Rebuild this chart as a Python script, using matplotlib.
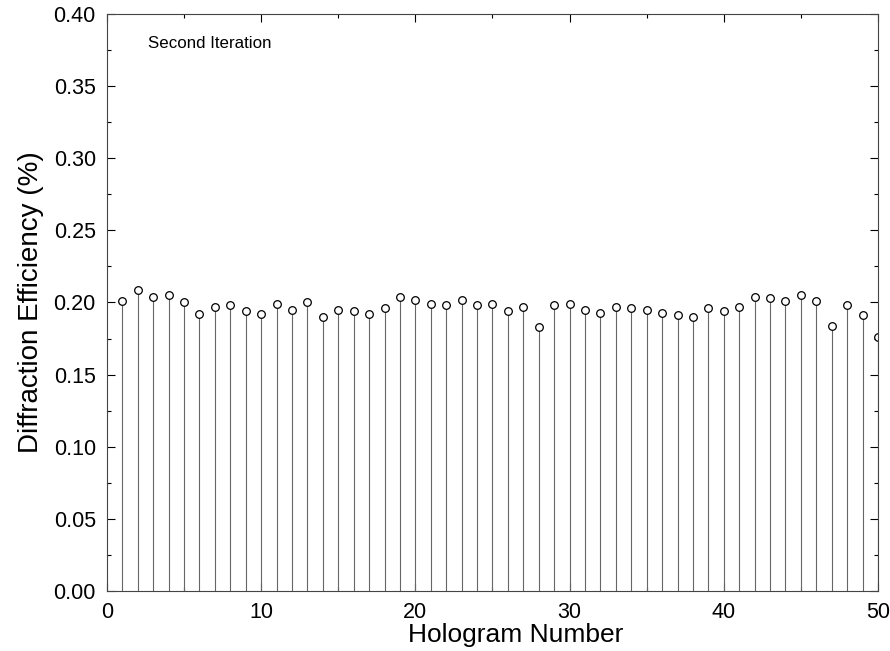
import numpy as np
import matplotlib
matplotlib.use("Agg")
import matplotlib.pyplot as plt
from matplotlib.ticker import MultipleLocator

plt.rcParams['font.family'] = ['Liberation Sans', 'DejaVu Sans']

# hologram index and measured diffraction efficiency (%)
hologram = np.arange(1, 51)
efficiency = [0.201, 0.209, 0.204, 0.205, 0.200, 0.192, 0.197, 0.198, 0.194, 0.192,
              0.199, 0.195, 0.200, 0.190, 0.195, 0.194, 0.192, 0.196, 0.204, 0.202,
              0.199, 0.198, 0.202, 0.198, 0.199, 0.194, 0.197, 0.183, 0.198, 0.199,
              0.195, 0.193, 0.197, 0.196, 0.195, 0.193, 0.191, 0.190, 0.196, 0.194,
              0.197, 0.204, 0.203, 0.201, 0.205, 0.201, 0.184, 0.198, 0.191, 0.176]

fig = plt.figure(figsize=(8.9, 6.51), dpi=100)
ax = fig.add_axes([0.1202, 0.0922, 0.8663, 0.8863])

ax.vlines(hologram, 0, efficiency, colors='#666666', linewidth=0.8)
ax.plot(hologram, efficiency, 'o', ms=5.5, mfc='white', mec='black', mew=0.9)

ax.set_xlim(0, 50)
ax.set_ylim(0, 0.40)
ax.xaxis.set_major_locator(MultipleLocator(10))
ax.xaxis.set_minor_locator(MultipleLocator(5))
ax.yaxis.set_major_locator(MultipleLocator(0.05))
ax.yaxis.set_minor_locator(MultipleLocator(0.025))
ax.yaxis.set_major_formatter(plt.FormatStrFormatter('%.2f'))
ax.tick_params(which='both', direction='in', top=True, right=True, labelsize=15.5, width=0.8)
ax.tick_params(which='major', length=6, pad=8)
ax.tick_params(which='minor', length=3)
for s in ax.spines.values():
    s.set_linewidth(0.8)
    s.set_color('#444444')

ax.set_xlabel("Hologram Number", fontsize=19, labelpad=0)
ax.xaxis.label.set_x(0.53)
ax.set_ylabel("Diffraction Efficiency (%)", fontsize=20, labelpad=7)
ax.text(0.053, 0.948, "Second Iteration", transform=ax.transAxes, fontsize=12.2, va='center')

fig.savefig("out.png", dpi=100)
